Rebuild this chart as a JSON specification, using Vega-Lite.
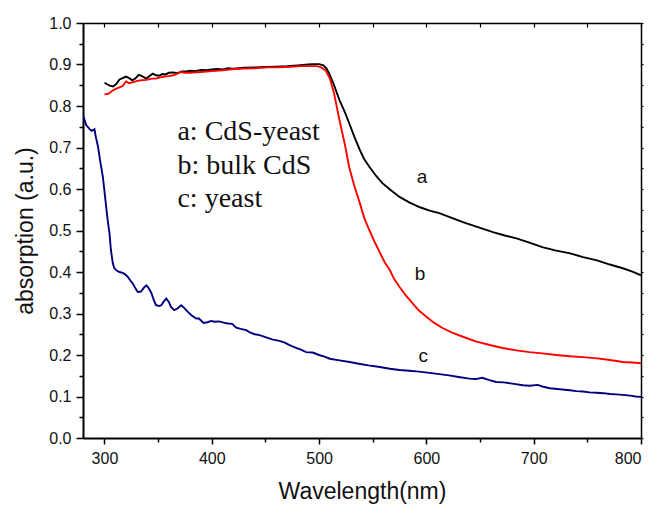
{
  "$schema": "https://vega.github.io/schema/vega-lite/v6.json",
  "width": 558,
  "height": 415,
  "autosize": {"type": "none"},
  "padding": {"left": 83, "top": 23, "right": 18, "bottom": 70},
  "background": "white",
  "config": {
    "view": {"stroke": null},
    "axis": {"grid": false, "domainColor": "black", "tickColor": "black", "labelColor": "#111", "titleColor": "#111", "labelFont": "Liberation Sans", "titleFont": "Liberation Sans", "titleFontWeight": "normal"}
  },
  "datasets": {
    "curves": [
      {"s":"a","wl":300,"v":0.856},{"s":"a","wl":302,"v":0.853},{"s":"a","wl":305,"v":0.849},{"s":"a","wl":308,"v":0.847},{"s":"a","wl":311,"v":0.853},{"s":"a","wl":314,"v":0.864},{"s":"a","wl":317,"v":0.867},{"s":"a","wl":320,"v":0.871},{"s":"a","wl":323,"v":0.867},{"s":"a","wl":326,"v":0.862},{"s":"a","wl":329,"v":0.867},{"s":"a","wl":332,"v":0.875},{"s":"a","wl":335,"v":0.872},{"s":"a","wl":339,"v":0.866},{"s":"a","wl":342,"v":0.872},{"s":"a","wl":345,"v":0.878},{"s":"a","wl":348,"v":0.874},{"s":"a","wl":351,"v":0.873},{"s":"a","wl":354,"v":0.877},{"s":"a","wl":357,"v":0.876},{"s":"a","wl":360,"v":0.88},{"s":"a","wl":364,"v":0.881},{"s":"a","wl":368,"v":0.879},{"s":"a","wl":372,"v":0.883},{"s":"a","wl":376,"v":0.883},{"s":"a","wl":380,"v":0.885},{"s":"a","wl":385,"v":0.884},{"s":"a","wl":390,"v":0.887},{"s":"a","wl":395,"v":0.886},{"s":"a","wl":400,"v":0.888},{"s":"a","wl":405,"v":0.889},{"s":"a","wl":410,"v":0.888},{"s":"a","wl":415,"v":0.891},{"s":"a","wl":420,"v":0.89},{"s":"a","wl":430,"v":0.892},{"s":"a","wl":440,"v":0.893},{"s":"a","wl":450,"v":0.894},{"s":"a","wl":460,"v":0.895},{"s":"a","wl":470,"v":0.896},{"s":"a","wl":480,"v":0.898},{"s":"a","wl":490,"v":0.9},{"s":"a","wl":495,"v":0.901},{"s":"a","wl":500,"v":0.901},{"s":"a","wl":504,"v":0.898},{"s":"a","wl":507,"v":0.89},{"s":"a","wl":510,"v":0.875},{"s":"a","wl":514,"v":0.85},{"s":"a","wl":519,"v":0.814},{"s":"a","wl":524,"v":0.785},{"s":"a","wl":528,"v":0.759},{"s":"a","wl":533,"v":0.725},{"s":"a","wl":538,"v":0.694},{"s":"a","wl":542,"v":0.672},{"s":"a","wl":547,"v":0.653},{"s":"a","wl":553,"v":0.632},{"s":"a","wl":559,"v":0.614},{"s":"a","wl":567,"v":0.597},{"s":"a","wl":575,"v":0.581},{"s":"a","wl":584,"v":0.568},{"s":"a","wl":594,"v":0.556},{"s":"a","wl":603,"v":0.548},{"s":"a","wl":612,"v":0.542},{"s":"a","wl":623,"v":0.531},{"s":"a","wl":634,"v":0.52},{"s":"a","wl":648,"v":0.508},{"s":"a","wl":662,"v":0.496},{"s":"a","wl":673,"v":0.488},{"s":"a","wl":684,"v":0.481},{"s":"a","wl":696,"v":0.471},{"s":"a","wl":708,"v":0.46},{"s":"a","wl":720,"v":0.452},{"s":"a","wl":734,"v":0.445},{"s":"a","wl":746,"v":0.436},{"s":"a","wl":759,"v":0.428},{"s":"a","wl":771,"v":0.418},{"s":"a","wl":783,"v":0.409},{"s":"a","wl":792,"v":0.401},{"s":"a","wl":800,"v":0.392},
      {"s":"b","wl":300,"v":0.828},{"s":"b","wl":303,"v":0.829},{"s":"b","wl":305,"v":0.832},{"s":"b","wl":308,"v":0.838},{"s":"b","wl":311,"v":0.842},{"s":"b","wl":314,"v":0.845},{"s":"b","wl":317,"v":0.848},{"s":"b","wl":320,"v":0.859},{"s":"b","wl":323,"v":0.855},{"s":"b","wl":326,"v":0.857},{"s":"b","wl":330,"v":0.86},{"s":"b","wl":334,"v":0.862},{"s":"b","wl":339,"v":0.863},{"s":"b","wl":344,"v":0.866},{"s":"b","wl":348,"v":0.866},{"s":"b","wl":352,"v":0.869},{"s":"b","wl":356,"v":0.871},{"s":"b","wl":360,"v":0.872},{"s":"b","wl":364,"v":0.874},{"s":"b","wl":368,"v":0.878},{"s":"b","wl":371,"v":0.882},{"s":"b","wl":375,"v":0.88},{"s":"b","wl":380,"v":0.88},{"s":"b","wl":385,"v":0.881},{"s":"b","wl":390,"v":0.882},{"s":"b","wl":400,"v":0.884},{"s":"b","wl":410,"v":0.886},{"s":"b","wl":421,"v":0.889},{"s":"b","wl":430,"v":0.89},{"s":"b","wl":440,"v":0.891},{"s":"b","wl":452,"v":0.893},{"s":"b","wl":460,"v":0.893},{"s":"b","wl":470,"v":0.894},{"s":"b","wl":483,"v":0.896},{"s":"b","wl":490,"v":0.896},{"s":"b","wl":498,"v":0.896},{"s":"b","wl":502,"v":0.893},{"s":"b","wl":506,"v":0.886},{"s":"b","wl":510,"v":0.867},{"s":"b","wl":514,"v":0.83},{"s":"b","wl":519,"v":0.766},{"s":"b","wl":524,"v":0.708},{"s":"b","wl":528,"v":0.653},{"s":"b","wl":533,"v":0.606},{"s":"b","wl":538,"v":0.566},{"s":"b","wl":542,"v":0.531},{"s":"b","wl":547,"v":0.5},{"s":"b","wl":552,"v":0.471},{"s":"b","wl":557,"v":0.445},{"s":"b","wl":561,"v":0.424},{"s":"b","wl":566,"v":0.404},{"s":"b","wl":570,"v":0.383},{"s":"b","wl":575,"v":0.364},{"s":"b","wl":581,"v":0.343},{"s":"b","wl":587,"v":0.325},{"s":"b","wl":593,"v":0.307},{"s":"b","wl":600,"v":0.292},{"s":"b","wl":607,"v":0.278},{"s":"b","wl":615,"v":0.265},{"s":"b","wl":624,"v":0.254},{"s":"b","wl":634,"v":0.244},{"s":"b","wl":646,"v":0.233},{"s":"b","wl":659,"v":0.224},{"s":"b","wl":671,"v":0.217},{"s":"b","wl":684,"v":0.211},{"s":"b","wl":696,"v":0.207},{"s":"b","wl":708,"v":0.204},{"s":"b","wl":721,"v":0.2},{"s":"b","wl":734,"v":0.197},{"s":"b","wl":746,"v":0.195},{"s":"b","wl":759,"v":0.192},{"s":"b","wl":771,"v":0.188},{"s":"b","wl":783,"v":0.183},{"s":"b","wl":792,"v":0.182},{"s":"b","wl":800,"v":0.18},
      {"s":"c","wl":280,"v":0.778},{"s":"c","wl":283,"v":0.754},{"s":"c","wl":286,"v":0.745},{"s":"c","wl":288,"v":0.74},{"s":"c","wl":290.7,"v":0.744},{"s":"c","wl":292,"v":0.725},{"s":"c","wl":294,"v":0.702},{"s":"c","wl":296,"v":0.668},{"s":"c","wl":298.5,"v":0.629},{"s":"c","wl":300,"v":0.595},{"s":"c","wl":301.6,"v":0.557},{"s":"c","wl":303,"v":0.525},{"s":"c","wl":304.7,"v":0.493},{"s":"c","wl":306,"v":0.453},{"s":"c","wl":307.8,"v":0.421},{"s":"c","wl":309,"v":0.41},{"s":"c","wl":311,"v":0.404},{"s":"c","wl":314,"v":0.4},{"s":"c","wl":317,"v":0.398},{"s":"c","wl":319,"v":0.395},{"s":"c","wl":321.8,"v":0.388},{"s":"c","wl":324,"v":0.38},{"s":"c","wl":326.4,"v":0.372},{"s":"c","wl":329,"v":0.36},{"s":"c","wl":331,"v":0.352},{"s":"c","wl":334,"v":0.353},{"s":"c","wl":337,"v":0.363},{"s":"c","wl":339,"v":0.368},{"s":"c","wl":341,"v":0.362},{"s":"c","wl":343.6,"v":0.35},{"s":"c","wl":346,"v":0.332},{"s":"c","wl":348,"v":0.32},{"s":"c","wl":351,"v":0.318},{"s":"c","wl":353,"v":0.32},{"s":"c","wl":355,"v":0.328},{"s":"c","wl":357.6,"v":0.336},{"s":"c","wl":360,"v":0.328},{"s":"c","wl":362,"v":0.316},{"s":"c","wl":365,"v":0.308},{"s":"c","wl":368,"v":0.312},{"s":"c","wl":371.6,"v":0.32},{"s":"c","wl":374,"v":0.314},{"s":"c","wl":377.7,"v":0.304},{"s":"c","wl":381,"v":0.296},{"s":"c","wl":385.5,"v":0.288},{"s":"c","wl":388,"v":0.288},{"s":"c","wl":392.4,"v":0.277},{"s":"c","wl":396,"v":0.279},{"s":"c","wl":399.5,"v":0.282},{"s":"c","wl":403,"v":0.28},{"s":"c","wl":407,"v":0.281},{"s":"c","wl":411,"v":0.278},{"s":"c","wl":415,"v":0.276},{"s":"c","wl":419,"v":0.275},{"s":"c","wl":422.8,"v":0.266},{"s":"c","wl":427,"v":0.263},{"s":"c","wl":432,"v":0.26},{"s":"c","wl":436,"v":0.254},{"s":"c","wl":440,"v":0.25},{"s":"c","wl":444.6,"v":0.248},{"s":"c","wl":450,"v":0.243},{"s":"c","wl":457,"v":0.237},{"s":"c","wl":463,"v":0.234},{"s":"c","wl":468,"v":0.23},{"s":"c","wl":472.5,"v":0.224},{"s":"c","wl":478,"v":0.218},{"s":"c","wl":483,"v":0.213},{"s":"c","wl":488,"v":0.207},{"s":"c","wl":494,"v":0.206},{"s":"c","wl":500,"v":0.2},{"s":"c","wl":505,"v":0.196},{"s":"c","wl":510,"v":0.191},{"s":"c","wl":519,"v":0.187},{"s":"c","wl":528.5,"v":0.183},{"s":"c","wl":537,"v":0.179},{"s":"c","wl":546,"v":0.175},{"s":"c","wl":556.5,"v":0.171},{"s":"c","wl":566,"v":0.167},{"s":"c","wl":575,"v":0.164},{"s":"c","wl":584,"v":0.162},{"s":"c","wl":593,"v":0.16},{"s":"c","wl":603,"v":0.157},{"s":"c","wl":612,"v":0.154},{"s":"c","wl":621,"v":0.151},{"s":"c","wl":630,"v":0.147},{"s":"c","wl":640,"v":0.143},{"s":"c","wl":646,"v":0.142},{"s":"c","wl":652,"v":0.145},{"s":"c","wl":658,"v":0.14},{"s":"c","wl":665,"v":0.135},{"s":"c","wl":672,"v":0.134},{"s":"c","wl":680,"v":0.131},{"s":"c","wl":690,"v":0.127},{"s":"c","wl":696,"v":0.126},{"s":"c","wl":704,"v":0.128},{"s":"c","wl":708,"v":0.124},{"s":"c","wl":715,"v":0.12},{"s":"c","wl":722,"v":0.118},{"s":"c","wl":733.6,"v":0.115},{"s":"c","wl":740,"v":0.113},{"s":"c","wl":746,"v":0.112},{"s":"c","wl":752,"v":0.11},{"s":"c","wl":758.6,"v":0.109},{"s":"c","wl":765,"v":0.108},{"s":"c","wl":771,"v":0.106},{"s":"c","wl":777,"v":0.105},{"s":"c","wl":783,"v":0.104},{"s":"c","wl":790,"v":0.102},{"s":"c","wl":795,"v":0.1},{"s":"c","wl":800,"v":0.099}
    ],
    "legend": [
      {"label":"a: CdS-yeast","wl":368,"v":0.718},
      {"label":"b: bulk CdS","wl":368,"v":0.636},
      {"label":"c: yeast","wl":368,"v":0.556}
    ],
    "tags": [
      {"label":"a","wl":596,"v":0.614},
      {"label":"b","wl":594,"v":0.38},
      {"label":"c","wl":597,"v":0.183}
    ]
  },
  "resolve": {"axis": {"x": "independent", "y": "independent"}},
  "layer": [
    {
      "data": {"name": "curves"},
      "mark": {"type": "line", "strokeWidth": 1.9, "clip": true},
      "encoding": {
        "x": {"field": "wl", "type": "quantitative", "scale": {"domain": [280, 800], "nice": false, "zero": false},
          "axis": {"orient": "bottom", "values": [300,400,500,600,700,800], "tickSize": 6, "tickWidth": 1.5, "domainWidth": 2, "labelFontSize": 16, "labelPadding": 6, "title": "Wavelength(nm)", "titleFontSize": 23, "titlePadding": 14}},
        "y": {"field": "v", "type": "quantitative", "scale": {"domain": [0, 1], "nice": false},
          "axis": {"orient": "left", "values": [0,0.1,0.2,0.3,0.4,0.5,0.6,0.7,0.8,0.9,1.0], "format": ".1f", "tickSize": 7, "tickWidth": 1.5, "domainWidth": 2, "labelFontSize": 16, "labelPadding": 5, "title": "absorption (a.u.)", "titleFontSize": 23, "titlePadding": 11}},
        "color": {"field": "s", "type": "nominal", "scale": {"domain": ["a","b","c"], "range": ["#000000","#ff0000","#000080"]}, "legend": null}
      }
    },
    {
      "data": {"name": "legend"},
      "mark": {"type": "text", "font": "Liberation Serif", "fontSize": 28, "align": "left", "baseline": "alphabetic", "color": "#111"},
      "encoding": {
        "x": {"field": "wl", "type": "quantitative", "scale": {"domain": [280, 800], "nice": false, "zero": false},
          "axis": {"orient": "bottom", "values": [350,450,550,650,750], "tickSize": 4, "tickWidth": 1.5, "labels": false, "domain": false, "title": null}},
        "y": {"field": "v", "type": "quantitative", "scale": {"domain": [0, 1], "nice": false},
          "axis": {"orient": "left", "values": [0.05,0.15,0.25,0.35,0.45,0.55,0.65,0.75,0.85,0.95], "tickSize": 4, "tickWidth": 1.5, "labels": false, "domain": false, "title": null}},
        "text": {"field": "label"}
      }
    },
    {
      "data": {"name": "tags"},
      "mark": {"type": "text", "font": "Liberation Sans", "fontSize": 19, "align": "center", "baseline": "alphabetic", "color": "#111"},
      "encoding": {
        "x": {"field": "wl", "type": "quantitative", "scale": {"domain": [280, 800], "nice": false, "zero": false},
          "axis": {"orient": "top", "values": [300,350,400,450,500,550,600,650,700,750,800], "tickSize": -4, "tickWidth": 1.2, "domainWidth": 1.5, "labels": false, "title": null}},
        "y": {"field": "v", "type": "quantitative", "scale": {"domain": [0, 1], "nice": false},
          "axis": {"orient": "right", "values": [0,0.05,0.1,0.15,0.2,0.25,0.3,0.35,0.4,0.45,0.5,0.55,0.6,0.65,0.7,0.75,0.8,0.85,0.9,0.95,1.0], "tickSize": 2, "tickWidth": 1.2, "domainWidth": 1.5, "labels": false, "title": null}},
        "text": {"field": "label"}
      }
    }
  ]
}
